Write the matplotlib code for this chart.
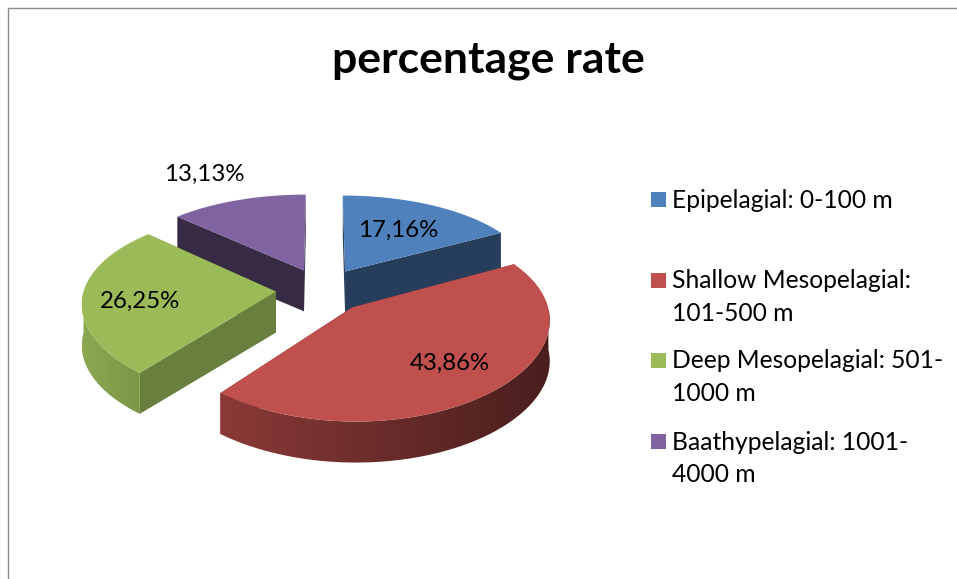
import numpy as np
import matplotlib
matplotlib.use("Agg")
import matplotlib.pyplot as plt
from matplotlib.colors import LinearSegmentedColormap, to_rgb
from matplotlib.patches import Polygon, Rectangle

labels = ["Epipelagial: 0-100 m", "Shallow Mesopelagial:\n101-500 m",
          "Deep Mesopelagial: 501-\n1000 m", "Baathypelagial: 1001-\n4000 m"]
values = [17.16, 43.86, 26.25, 13.13]
value_text = ["17,16%", "43,86%", "26,25%", "13,13%"]
colors = ["#4f81bd", "#c0504d", "#9bbb59", "#8064a2"]
cut_shade = [0.48, 0.5, 0.68, 0.42]
wall_shade = [(0.5, 0.4), (0.72, 0.38), (0.9, 0.8), (0.5, 0.4)]
legend_y = [199.5, 280.5, 360.5, 441.5]
label_pos = [(398, 230), (450, 363), (140, 301), (204, 174)]

plt.rcParams["font.family"] = ["Lato", "DejaVu Sans"]

# pie geometry, px
cx, cy = 322, 290
rx, ry = 192, 92
depth = 41
persp_x = 0.11
persp_y = 0.145
explode = 0.24


def project(x, y):
    return np.array([cx + rx * x / (1.0 - persp_x * y), cy + ry * y / (1.0 - persp_y * y)])


def shade(col, f):
    return tuple(c * f for c in to_rgb(col))


fig = plt.figure(figsize=(9.57, 5.79), dpi=100)
ax = fig.add_axes([0, 0, 1, 1])

ax.plot([8, 8, 957], [579, 8, 8], color="#8c8c8c", lw=1)

fracs = np.array(values) / sum(values)
edges = np.concatenate([[0], np.cumsum(fracs)]) * 2 * np.pi
order = [3, 0, 2, 1]

for n, i in enumerate(order):
    a0, a1 = edges[i], edges[i + 1]
    mid = (a0 + a1) / 2
    ox, oy = explode * np.sin(mid), -explode * np.cos(mid)
    t = np.linspace(a0, a1, 200)
    rim = np.array([project(ox + np.sin(a), oy - np.cos(a)) for a in t])
    apex = project(ox, oy)
    down = np.array([0, depth])

    # cut faces
    for a in (a0, a1):
        e = project(ox + np.sin(a), oy - np.cos(a))
        ax.add_patch(Polygon([apex, e, e + down, apex + down], closed=True,
                             fc=shade(colors[i], cut_shade[i]), ec="none", zorder=2 + n * 3))

    # outer wall, gradient left to right
    front = rim[np.cos(t) < 0.0]
    if len(front) > 1:
        wall = np.vstack([front, (front + down)[::-1]])
        clip = Polygon(wall, closed=True, fc="none", ec="none", transform=ax.transData)
        ax.add_patch(clip)
        fl, fr = wall_shade[i]
        cmap = LinearSegmentedColormap.from_list("w", [shade(colors[i], fl), shade(colors[i], fr)])
        im = ax.imshow(np.linspace(0, 1, 256)[None, :], cmap=cmap, aspect="auto", interpolation="bilinear",
                       extent=[wall[:, 0].min(), wall[:, 0].max(), wall[:, 1].max(), wall[:, 1].min()],
                       zorder=3 + n * 3)
        im.set_clip_path(clip)

    ax.add_patch(Polygon(np.vstack([apex, rim]), closed=True, fc=colors[i], ec="none", zorder=4 + n * 3))

for txt, (x, y) in zip(value_text, label_pos):
    ax.text(x, y, txt, fontsize=17.3, color="black", ha="center", va="center", zorder=30)

ax.text(488, 60, "percentage rate", fontsize=32, fontweight="bold", ha="center", va="center")

for lab, col, y in zip(labels, colors, legend_y):
    ax.add_patch(Rectangle((651, y - 7.5), 15, 15, fc=col, ec="none"))
    ax.text(672, y - 11, lab, fontsize=17.7, va="top", ha="left", linespacing=1.5)

ax.set_xlim(0, 957)
ax.set_ylim(579, 0)
ax.axis("off")

fig.savefig("out.png", dpi=100)
